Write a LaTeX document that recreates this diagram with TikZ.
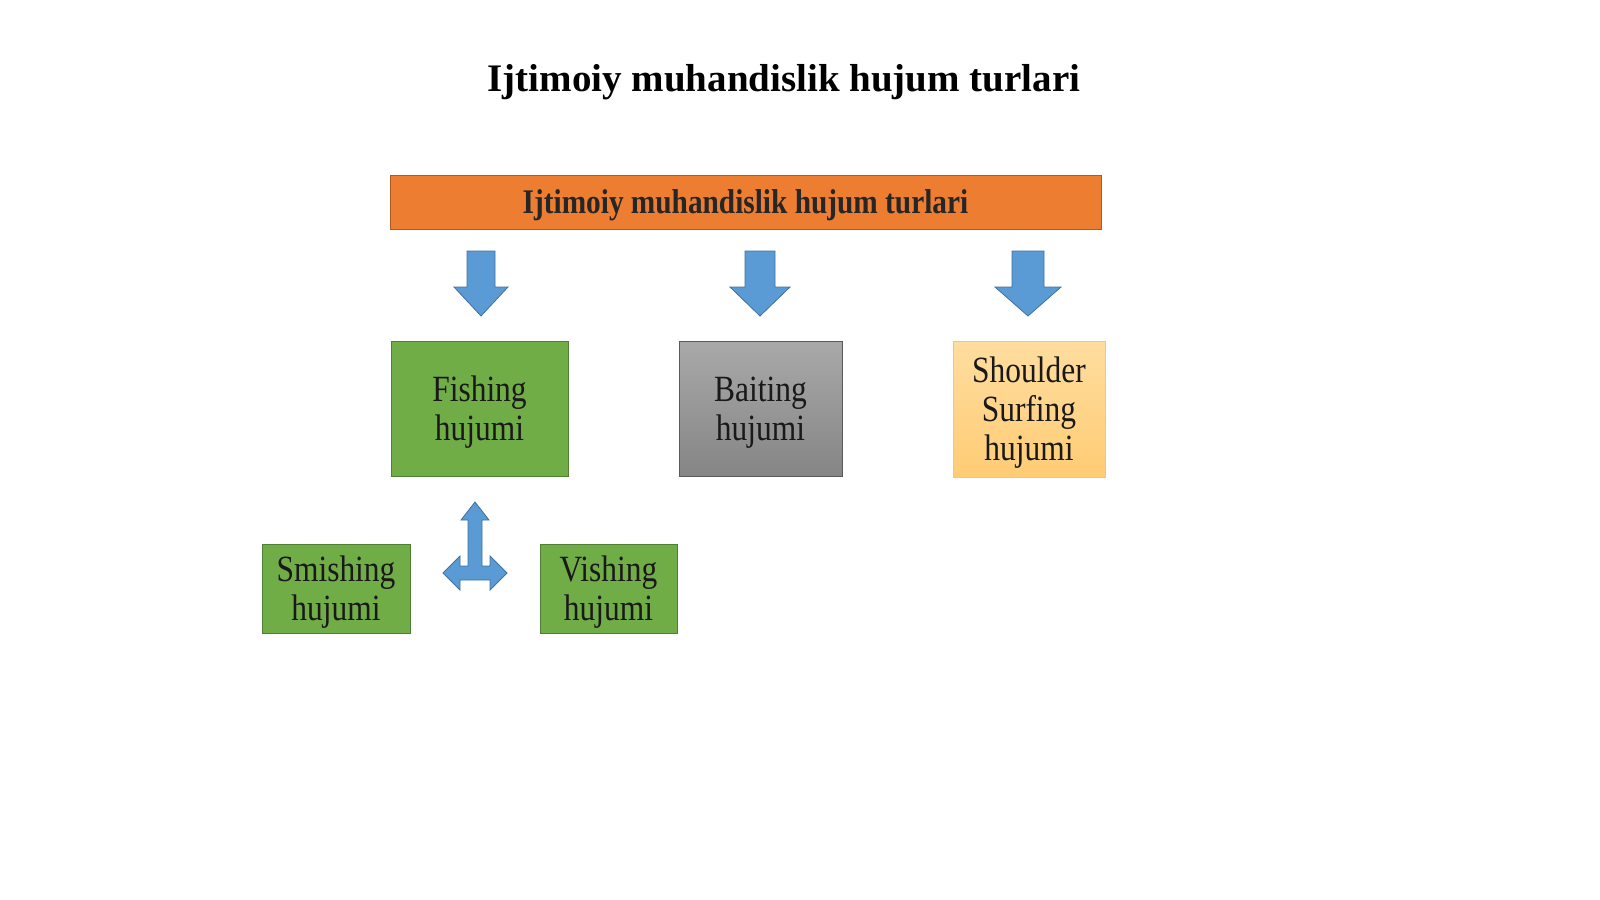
\documentclass[tikz,border=0pt]{standalone}
\usepackage{fontspec}
\setmainfont{Liberation Serif}
\newfontfamily\boxfont[FakeStretch=0.85]{Liberation Serif}
\usetikzlibrary{shapes.geometric}
\definecolor{orng}{HTML}{ED7D31}
\definecolor{orngd}{HTML}{AE5A21}
\definecolor{grn}{HTML}{70AD47}
\definecolor{grnd}{HTML}{507E32}
\definecolor{blu}{HTML}{5B9BD5}
\definecolor{blud}{HTML}{41719C}
\definecolor{gryt}{HTML}{A9A9A9}
\definecolor{gryb}{HTML}{858585}
\definecolor{gryd}{HTML}{5A5A5A}
\definecolor{ylwt}{HTML}{FFDDA0}
\definecolor{ylwb}{HTML}{FFCC74}
\tikzset{
  boxtext/.style={font=\boxfont\fontsize{37}{39}\selectfont, align=center, text=black!90, inner sep=0pt, text depth=0pt},
  greenbox/.style={boxtext, fill=grn, draw=grnd, line width=1pt},
  blockarrow/.style={fill=blu, draw=blud, line width=0.8pt, line join=miter},
}
\begin{document}
\begin{tikzpicture}[x=1pt,y=-1pt]
\useasboundingbox (0,0) rectangle (1600,899);
\fill[white] (0,0) rectangle (1600,899);

% title
\node[font=\bfseries\fontsize{39}{44}\selectfont, anchor=base] (title) at (784,92) {Ijtimoiy muhandislik hujum turlari};

% header bar
\node[fill=orng, draw=orngd, line width=0.8pt, minimum width=711pt, minimum height=54pt, inner sep=0pt, text depth=0pt,
      font=\boxfont\bfseries\fontsize{34.5}{36}\selectfont, text=black!85] (bar) at (745.5,202) {Ijtimoiy muhandislik hujum turlari};

% boxes
\node[greenbox, minimum width=177pt, minimum height=135pt] (fish) at (479.5,408.5) {Fishing\\hujumi};
\node[boxtext, top color=gryt, bottom color=gryb, draw=gryd, line width=0.8pt, minimum width=163pt, minimum height=135pt] (bait) at (760.5,408.5) {Baiting\\hujumi};
\node[boxtext, top color=ylwt, bottom color=ylwb, draw=ylwb!90!orange, line width=0.5pt, minimum width=152pt, minimum height=136pt] (shoulder) at (1029,409) {Shoulder\\Surfing\\hujumi};
\node[greenbox, minimum width=148pt, minimum height=89pt] (smish) at (336,588.5) {Smishing\\hujumi};
\node[greenbox, minimum width=137pt, minimum height=89pt] (vish) at (608.5,588.5) {Vishing\\hujumi};

% down arrows
\draw[blockarrow] (467,251) -- (495,251) -- (495,287) -- (508,287) -- (481,316) -- (454,287) -- (467,287) -- cycle;
\draw[blockarrow] (745,251) -- (775,251) -- (775,287) -- (790,287) -- (760,316) -- (730,287) -- (745,287) -- cycle;
\draw[blockarrow] (1012,251) -- (1044,251) -- (1044,287) -- (1061,287) -- (1028,316) -- (995,287) -- (1012,287) -- cycle;

% three-way arrow
\draw[blockarrow] (475,502) -- (489,520) -- (482,520) -- (482,566) -- (490,566) -- (490,556) -- (507,573)
  -- (490,590) -- (490,580) -- (460,580) -- (460,590) -- (443,573) -- (460,556) -- (460,566)
  -- (468,566) -- (468,520) -- (461,520) -- cycle;
\end{tikzpicture}
\end{document}
